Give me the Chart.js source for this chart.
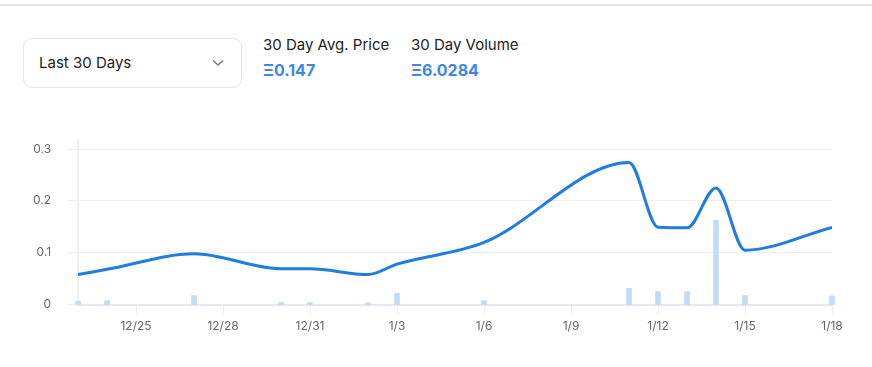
<!DOCTYPE html>
<html lang="en">
<head>
    <meta charset="UTF-8">
    <script src="https://cdn.jsdelivr.net/npm/chart.js"></script>
    <style>
        body {
            margin: 0;
            width: 872px;
            height: 367px;
            background: #fff;
            font-family: Inter, "Noto Sans", sans-serif;
            color: #222;
            position: relative;
            overflow: hidden;
        }
        #topLine {
            position: absolute;
            left: 0; top: 4px;
            width: 872px; height: 2px;
            background: #e8e8e8;
        }
        #rangeSelect {
            position: absolute;
            left: 23px; top: 38px;
            width: 219px; height: 50px;
            border: 1px solid #e4e4e4;
            border-radius: 9px;
            box-sizing: border-box;
        }
        #rangeSelect span {
            position: absolute;
            left: 15px; top: 14px;
            font-size: 15px;
        }
        #rangeSelect svg {
            position: absolute;
            left: 188px; top: 20px;
        }
        .stat {
            position: absolute;
            top: 35px;
        }
        .stat .label {
            font-size: 15px;
            line-height: 20px;
        }
        .stat .value {
            font-size: 16px;
            font-weight: 700;
            color: #3d86ea;
            line-height: 20px;
            margin-top: 5px;
        }
        #chartDiv {
            position: absolute;
            left: 0; top: 116px;
            width: 872px; height: 234px;
        }
    </style>
    <title>Price history</title>
</head>
<body>
    <div id="topLine"></div>
    <div id="rangeSelect">
        <span>Last 30 Days</span>
        <svg width="12" height="8" viewBox="0 0 12 8"><polyline points="1,1.5 6,6 11,1.5" fill="none" stroke="#7a7f87" stroke-width="1.6"/></svg>
    </div>
    <div class="stat" style="left:263px">
        <div class="label">30 Day Avg. Price</div>
        <div class="value">Ξ0.147</div>
    </div>
    <div class="stat" style="left:411px">
        <div class="label">30 Day Volume</div>
        <div class="value">Ξ6.0284</div>
    </div>
    <div id="chartDiv">
        <canvas id="priceChart"></canvas>
    </div>
<script>
    // every day on the axis, 12/23 .. 1/18
    var allDays = ['12/23','12/24','12/25','12/26','12/27','12/28','12/29','12/30','12/31',
        '1/1','1/2','1/3','1/4','1/5','1/6','1/7','1/8','1/9','1/10','1/11','1/12','1/13',
        '1/14','1/15','1/16','1/17','1/18'];
    var tickLabels = ['12/25','12/28','12/31','1/3','1/6','1/9','1/12','1/15','1/18'];

    // days with sales
    var saleDays = ['12/23','12/24','12/27','12/30','12/31','1/2','1/3','1/6','1/11','1/12','1/13','1/14','1/15','1/18'];
    var prices   = [0.058, 0.068, 0.098, 0.069, 0.069, 0.058, 0.078, 0.12, 0.274, 0.149, 0.148, 0.225, 0.105, 0.149];
    var volumes  = [0.11, 0.13, 0.30, 0.07, 0.07, 0.06, 0.375, 0.13, 0.54, 0.43, 0.43, 2.79, 0.30, 0.29];

    function dayIndex(d) { return allDays.indexOf(d); }

    var linePts = saleDays.map((d, i) => ({x: dayIndex(d), y: prices[i]}));
    var barPts = saleDays.map((d, i) => ({x: dayIndex(d), y: volumes[i]}));

    var gridColor = '#eceef2';
    var tickColor = '#666';

    var chart = new Chart(document.getElementById('priceChart'), {
        data: {
            datasets: [
                {
                    type: 'line',
                    data: linePts,
                    borderColor: '#1f7ce2',
                    borderWidth: 3,
                    pointRadius: 0,
                    cubicInterpolationMode: 'monotone',
                    yAxisID: 'y',
                    order: 0
                },
                {
                    type: 'bar',
                    data: barPts,
                    backgroundColor: '#c3dcf6',
                    barThickness: 5,
                    yAxisID: 'y1',
                    clip: false,
                    order: 1
                }
            ]
        },
        options: {
            responsive: true,
            maintainAspectRatio: false,
            animation: false,
            layout: { padding: { left: 16, right: 40, top: 9, bottom: 11 } },
            plugins: {
                legend: { display: false },
                tooltip: { enabled: false }
            },
            scales: {
                x: {
                    type: 'linear',
                    min: 0,
                    max: allDays.length - 1,
                    offset: false,
                    afterBuildTicks: function (axis) {
                        axis.ticks = tickLabels.map(t => ({value: dayIndex(t)}));
                    },
                    ticks: {
                        autoSkip: false,
                        maxRotation: 0,
                        padding: 5,
                        color: tickColor,
                        font: { family: 'Inter', size: 12 },
                        callback: function (v) { return allDays[v]; }
                    },
                    grid: {
                        offset: false,
                        drawOnChartArea: false,
                        drawTicks: true,
                        tickLength: 10,
                        color: gridColor
                    },
                    border: { color: '#e6e8ee', width: 2 }
                },
                y: {
                    min: 0,
                    max: 0.317,
                    ticks: {
                        stepSize: 0.1,
                        includeBounds: false,
                        padding: 17,
                        color: tickColor,
                        font: { family: 'Inter', size: 12 },
                        callback: function (v) { return Math.round(v * 10) / 10; }
                    },
                    grid: {
                        color: gridColor,
                        tickLength: 10
                    },
                    border: { color: '#eceef2', width: 2 }
                },
                y1: {
                    display: false,
                    min: 0,
                    max: 5.44
                }
            }
        }
    });
</script>
</body>
</html>
